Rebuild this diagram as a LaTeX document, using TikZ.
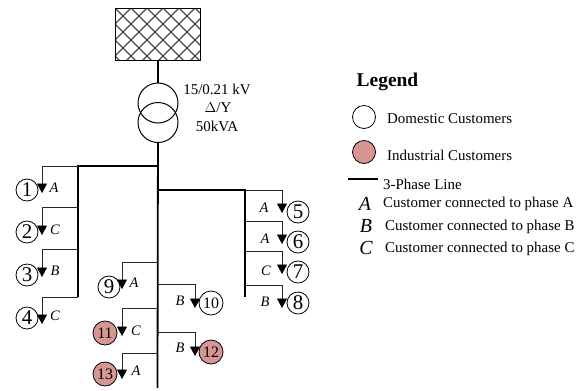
\documentclass[tikz,border=0pt]{standalone}
\usepackage{fontspec}
\setmainfont{Liberation Serif}
\usetikzlibrary{arrows.meta}
\tikzset{
  bus/.style={line width=1.8bp,black},
  wire/.style={line width=0.9bp,black!85},
  feed/.style={wire,-{Triangle[width=10bp,length=9.5bp,black]}},
  dom/.style={circle,draw=black,line width=0.8bp,fill=white,minimum size=22bp,inner sep=0pt,font=\fontsize{21}{21}\selectfont},
  ind/.style={dom,fill=indred},
  domwide/.style={dom,font=\fontsize{16}{16}\selectfont,minimum size=24bp},
  indwide/.style={domwide,fill=indred},
  ph/.style={inner sep=0pt,font=\fontsize{14.5}{14.5}\selectfont\itshape},
  legtxt/.style={inner sep=0pt,anchor=west,font=\fontsize{15}{15}\selectfont},
  legph/.style={inner sep=0pt,font=\fontsize{20}{20}\selectfont\itshape},
  trafo/.style={circle,draw=black,line width=1bp,minimum size=40bp,inner sep=0pt},
  xfmr/.style={inner sep=0pt,font=\fontsize{15}{15}\selectfont}
}
\definecolor{indred}{RGB}{215,150,145}
\begin{document}
\begin{tikzpicture}[x=1bp,y=-1bp]
\useasboundingbox (0,0) rectangle (587,390);
% source
\node[draw=black,line width=1.3bp,minimum width=85bp,minimum height=52bp,inner sep=0pt,
  path picture={
    \foreach \a in {-112,-96,...,112}{
      \draw[black!70,line width=1.2bp] (\a-35.5,-35) -- (\a+34.5,35);
      \draw[black!70,line width=1.2bp] (\a+29.5,-35) -- (\a-40.5,35);
    }}] (src) at (158,34.5) {};
% transformer
\node[trafo] (tu) at (158,103) {};
\node[trafo] (tl) at (158,122.5) {};
\node[xfmr] (t1) at (217,89) {15/0.21 kV};
\node[xfmr] (t2) at (218,108) {$\Delta$/Y};
\node[xfmr] (t3) at (217,126) {50kVA};
\draw[bus] (src) -- (tu);
% bus coordinates
\coordinate (mainend) at (157.5,388);
\coordinate (lj) at (157.5,166);
\coordinate (lt) at (78,166);
\coordinate (lb) at (78,297);
\coordinate (rj) at (157.5,190);
\coordinate (rt) at (245,190);
\coordinate (rb) at (245,297);
\draw[bus] (tl) -- (mainend);
\draw[bus] (lj) -- (lt) -- (lb);
\draw[bus] (rj) -- (rt) -- (rb);
% customers
\node[dom] (c1) at (27,190) {1};
\node[dom] (c2) at (27,232) {2};
\node[dom] (c3) at (27,275) {3};
\node[dom] (c4) at (27,318) {4};
\node[dom] (c5) at (298,212) {5};
\node[dom] (c6) at (298,242) {6};
\node[dom] (c7) at (298,272) {7};
\node[dom] (c8) at (298,303) {8};
\node[dom] (c9) at (109,287) {9};
\node[domwide] (c10) at (211,303) {10};
\node[indwide] (c11) at (105,333) {11};
\node[indwide] (c12) at (211,352) {12};
\node[indwide] (c13) at (105,374) {13};
% feeders: junction and arrow tip
\coordinate (j1) at (78,166);   \coordinate (a1) at (42,193);
\coordinate (j2) at (78,207);   \coordinate (a2) at (42,235);
\coordinate (j3) at (78,249);   \coordinate (a3) at (42,277);
\coordinate (j4) at (78,297);   \coordinate (a4) at (42,324);
\coordinate (j5) at (245,190);  \coordinate (a5) at (282,213);
\coordinate (j6) at (245,221);  \coordinate (a6) at (282,244);
\coordinate (j7) at (245,251);  \coordinate (a7) at (282,274);
\coordinate (j8) at (245,285);  \coordinate (a8) at (282,308);
\coordinate (j9) at (157.5,262);  \coordinate (a9) at (122,289);
\coordinate (j10) at (157.5,284); \coordinate (a10) at (195,308);
\coordinate (j11) at (157.5,308); \coordinate (a11) at (122,336);
\coordinate (j12) at (157.5,332); \coordinate (a12) at (195,356);
\coordinate (j13) at (157.5,353); \coordinate (a13) at (122,379);
\foreach \i in {1,...,13}{\draw[feed] (j\i) -| (a\i);}
% phase labels
\node[ph] (p1) at (54,188) {A};
\node[ph] (p2) at (55,230) {C};
\node[ph] (p3) at (55,271) {B};
\node[ph] (p4) at (55,316) {C};
\node[ph] (p5) at (264,208) {A};
\node[ph] (p6) at (265,239) {A};
\node[ph] (p7) at (266,271) {C};
\node[ph] (p8) at (265,302) {B};
\node[ph] (p9) at (134,283) {A};
\node[ph] (p10) at (180,301) {B};
\node[ph] (p11) at (136,331) {C};
\node[ph] (p12) at (180,348) {B};
\node[ph] (p13) at (136,371) {A};
% legend
\node[inner sep=0pt,anchor=west,font=\fontsize{19.5}{19.5}\selectfont\bfseries] (lg) at (356.5,82) {Legend};
\node[dom,minimum size=23bp] (ld) at (364,117) {};
\node[legtxt] (ldt) at (387,119) {Domestic Customers};
\node[ind,minimum size=23bp] (li) at (364,152) {};
\node[legtxt] (lit) at (387,155) {Industrial Customers};
\coordinate (l3a) at (348,179);
\coordinate (l3b) at (378,179);
\draw[bus] (l3a) -- (l3b);
\node[legtxt] (l3t) at (383,184) {3-Phase Line};
\node[legph] (la) at (365,204) {A};
\node[legtxt] (lat) at (383,204) {Customer connected to phase A};
\node[legph] (lb2) at (366,226) {B};
\node[legtxt] (lbt) at (385,227) {Customer connected to phase B};
\node[legph] (lc) at (366,248) {C};
\node[legtxt] (lct) at (385,249) {Customer connected to phase C};
\end{tikzpicture}
\end{document}
